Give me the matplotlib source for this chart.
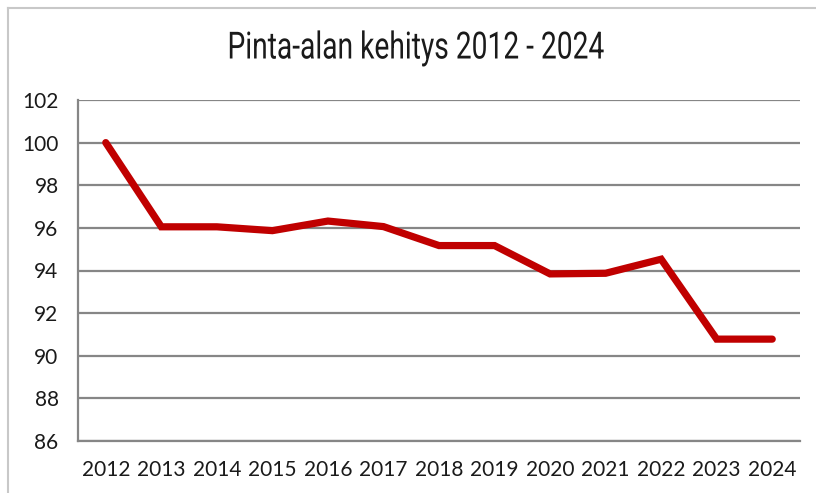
import matplotlib.pyplot as plt
from matplotlib.lines import Line2D
from matplotlib.patheffects import AbstractPathEffect
from matplotlib.transforms import Affine2D

years = ["2012", "2013", "2014", "2015", "2016", "2017", "2018",
         "2019", "2020", "2021", "2022", "2023", "2024"]
values = [100.0, 96.05, 96.05, 95.87, 96.32, 96.06, 95.17,
          95.17, 93.84, 93.87, 94.53, 90.78, 90.78]
y_ticks = [86, 88, 90, 92, 94, 96, 98, 100, 102]


class Squeeze(AbstractPathEffect):
    """Narrow the glyphs horizontally around a centre x (display px)."""

    def __init__(self, sx, cx):
        super().__init__()
        self.sx = sx
        self.cx = cx

    def draw_path(self, renderer, gc, tpath, affine, rgbFace=None):
        squeeze = Affine2D().translate(-self.cx, 0).scale(self.sx, 1).translate(self.cx, 0)
        renderer.draw_path(gc, tpath, affine + squeeze, rgbFace)


fig = plt.figure(figsize=(8.16, 4.93), dpi=100)
ax = fig.add_axes([78 / 816, 1 - 441 / 493, 722 / 816, 341 / 493])

ax.plot(range(len(years)), values, color="#c00000", linewidth=5.2,
        solid_joinstyle="miter", solid_capstyle="round", zorder=3)

ax.set_xlim(-0.5, len(years) - 0.5)
ax.set_ylim(y_ticks[0], y_ticks[-1])
ax.set_yticks(y_ticks)
ax.set_xticks(range(len(years)))
ax.set_xticklabels(years)
ax.grid(axis="y", color="#868686", linewidth=1.6)
ax.set_axisbelow(True)

for side in ["top", "right"]:
    ax.spines[side].set_visible(False)
for side in ["left", "bottom"]:
    ax.spines[side].set_color("#868686")
    ax.spines[side].set_linewidth(1.6)

ax.tick_params(length=0, labelsize=15, colors="#1a1a1a")
ax.tick_params(axis="x", pad=14)
ax.tick_params(axis="y", pad=14)
for lab in ax.get_xticklabels() + ax.get_yticklabels():
    lab.set_family(["Lato", "DejaVu Sans"])

# title: original uses a condensed face, so narrow a regular face to fit
title_cx = 416
title = fig.text(title_cx / 816, 1 - 48 / 493, "Pinta-alan kehitys 2012 - 2024",
                 ha="center", va="center", fontsize=27, color="#1a1a1a",
                 family=["Roboto", "DejaVu Sans"])
natural = title.get_window_extent(fig.canvas.get_renderer()).width
title.set_path_effects([Squeeze(377 / natural, title_cx)])

# light outer frame of the original chart
fig.add_artist(Line2D([7.5 / 816, 7.5 / 816], [0, 1 - 7.5 / 493],
                      transform=fig.transFigure, color="#c8c8c8", linewidth=1.5))
fig.add_artist(Line2D([7.5 / 816, 1], [1 - 7.5 / 493, 1 - 7.5 / 493],
                      transform=fig.transFigure, color="#c8c8c8", linewidth=1.5))

fig.savefig("out.png", dpi=100)
